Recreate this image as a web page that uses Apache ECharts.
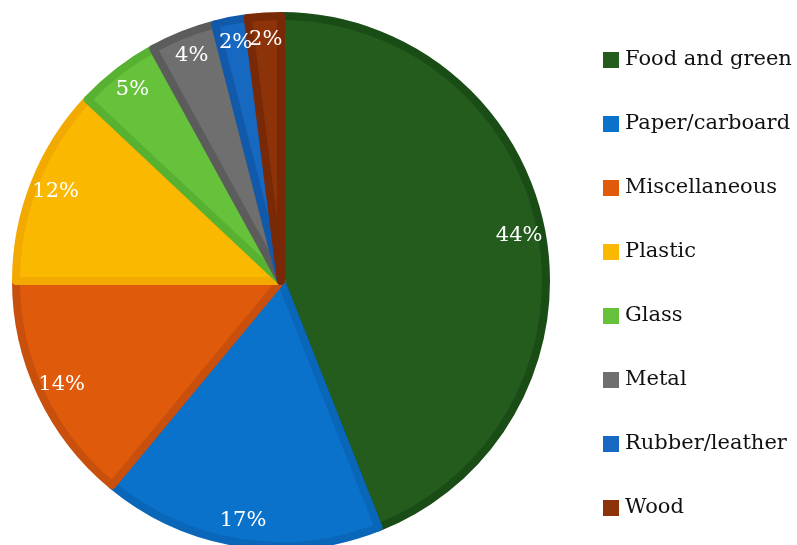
<!DOCTYPE html>
<html><head><meta charset="utf-8">
<script src="https://cdn.jsdelivr.net/npm/echarts@6/dist/echarts.min.js"></script>
<style>html,body{margin:0;padding:0;background:#fff}#c{width:797px;height:545px}</style>
</head><body><div id="c"></div>
<script>
const categories = ['Food and green','Paper/carboard','Miscellaneous','Plastic','Glass','Metal','Rubber/leather','Wood'];
const values = [44, 17, 14, 12, 5, 4, 2, 2];
const fillColors = ['#245c1e','#0b72cc','#df5a0a','#fbb800','#66c13b','#6f6f6f','#1768c0','#8c3309'];
const borderColors = ['#1a4c15','#0966b8','#c94f0c','#f2a900','#58b231','#5c5c5c','#115aab','#7a2906'];

const FONT = 'DejaVu Serif';
const chart = echarts.init(document.getElementById('c'), null, {renderer:'canvas'});
const cx = 281, cy = 281, R = 269;

chart.setOption({
  animation: false,
  legend: {
    orient: 'vertical', left: 603, top: 48, padding: 0,
    itemWidth: 16, itemHeight: 16, itemGap: 40,
    icon: 'rect',
    itemStyle: {borderWidth: 0},
    textStyle: {fontFamily: FONT, fontSize: 21, color: '#111', lineHeight: 24, padding: [0,0,0,1]},
    data: categories
  },
  series: [{
    type: 'pie',
    center: [cx, cy],
    radius: [0, R - 4],
    startAngle: 90,
    clockwise: true,
    label: {show: false},
    labelLine: {show: false},
    emphasis: {disabled: true},
    data: categories.map((n, i) => ({
      name: n, value: values[i],
      itemStyle: {color: fillColors[i], borderColor: borderColors[i], borderWidth: 8}
    }))
  }, {
    type: 'pie',
    center: [cx, cy],
    radius: [R * 0.78, R],
    startAngle: 90,
    clockwise: true,
    silent: true,
    legendHoverLink: false,
    avoidLabelOverlap: false,
    labelLayout: {hideOverlap: false},
    itemStyle: {color: 'rgba(0,0,0,0)', borderWidth: 0},
    label: {show: true, position: 'inside', formatter: '{c}%', color: '#fff',
            fontFamily: FONT, fontSize: 21},
    labelLine: {show: false},
    emphasis: {disabled: true},
    tooltip: {show: false},
    data: categories.map((n, i) => ({name: n, value: values[i]}))
  }]
});
</script></body></html>
